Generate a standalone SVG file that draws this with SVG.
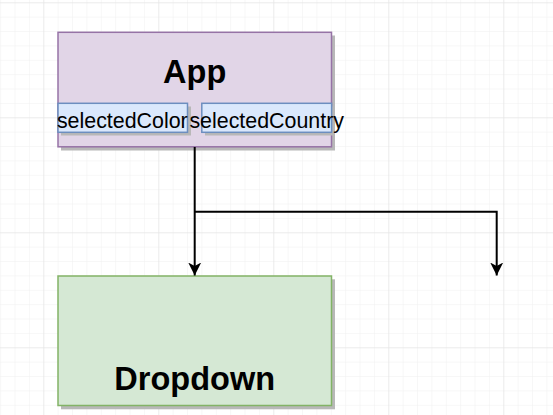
<svg xmlns="http://www.w3.org/2000/svg" width="553" height="415" viewBox="0 0 553 415">
  <defs>
    <pattern id="minor" x="43.3" y="2.3" width="14.375" height="14.375" patternUnits="userSpaceOnUse">
      <path d="M0 0H14.375M0 0V14.375" fill="none" stroke="#f0f0f0" stroke-width="1"/>
    </pattern>
    <pattern id="major" x="43.3" y="2.3" width="115" height="115" patternUnits="userSpaceOnUse">
      <path d="M0 0H115M0 0V115" fill="none" stroke="#e2e2e2" stroke-width="1"/>
    </pattern>
    <marker id="arrow" viewBox="0 0 13 13" refX="13" refY="6.5" markerWidth="13" markerHeight="13" markerUnits="userSpaceOnUse" orient="auto">
      <path d="M0 0L13 6.5L0 13L3.5 6.5Z" fill="#000"/>
    </marker>
  </defs>
  <style>
    .shadow { fill: #b8b8b8; }
    .app { fill: #e1d5e7; stroke: #9673a6; stroke-width: 1.5; }
    .prop { fill: #dae8fc; stroke: #6c8ebf; stroke-width: 1.5; }
    .dd { fill: #d5e8d4; stroke: #82b366; stroke-width: 1.5; }
    .title { font-family: "Liberation Sans", Arial, sans-serif; font-weight: bold; font-size: 32.5px; fill: #000; text-anchor: middle; }
    .label { font-family: "Liberation Sans", Arial, sans-serif; font-size: 21.4px; fill: #000; text-anchor: middle; }
    .edge { fill: none; stroke: #000; stroke-width: 2; }
  </style>
  <rect width="553" height="415" fill="#ffffff"/>
  <rect width="553" height="415" fill="url(#minor)"/>
  <rect width="553" height="415" fill="url(#major)"/>

  <g id="app">
    <rect class="shadow" x="61" y="35.5" width="274" height="115"/>
    <rect class="app" x="58" y="32.3" width="273.5" height="114.5"/>
    <text class="title" x="194.7" y="83">App</text>
  </g>
  <g id="selectedColor">
    <rect class="shadow" x="61" y="106.5" width="130" height="29"/>
    <rect class="prop" x="58" y="103.3" width="129.5" height="29"/>
    <text class="label" x="122.3" y="127.5">selectedColor</text>
  </g>
  <g id="selectedCountry">
    <rect class="shadow" x="205" y="106.5" width="130" height="29"/>
    <rect class="prop" x="201.8" y="103.3" width="129.8" height="29"/>
    <text class="label" x="266.7" y="127.5">selectedCountry</text>
  </g>
  <g id="dropdown">
    <rect class="shadow" x="61" y="279.3" width="274" height="130"/>
    <rect class="dd" x="58" y="276" width="273.5" height="129.5"/>
    <text class="title" x="194.7" y="390">Dropdown</text>
  </g>

  <g id="connectors">
    <path class="edge" d="M194.7 147V275.5" marker-end="url(#arrow)"/>
    <path class="edge" d="M194.7 211.7H496.7V275.5" marker-end="url(#arrow)"/>
  </g>
</svg>
